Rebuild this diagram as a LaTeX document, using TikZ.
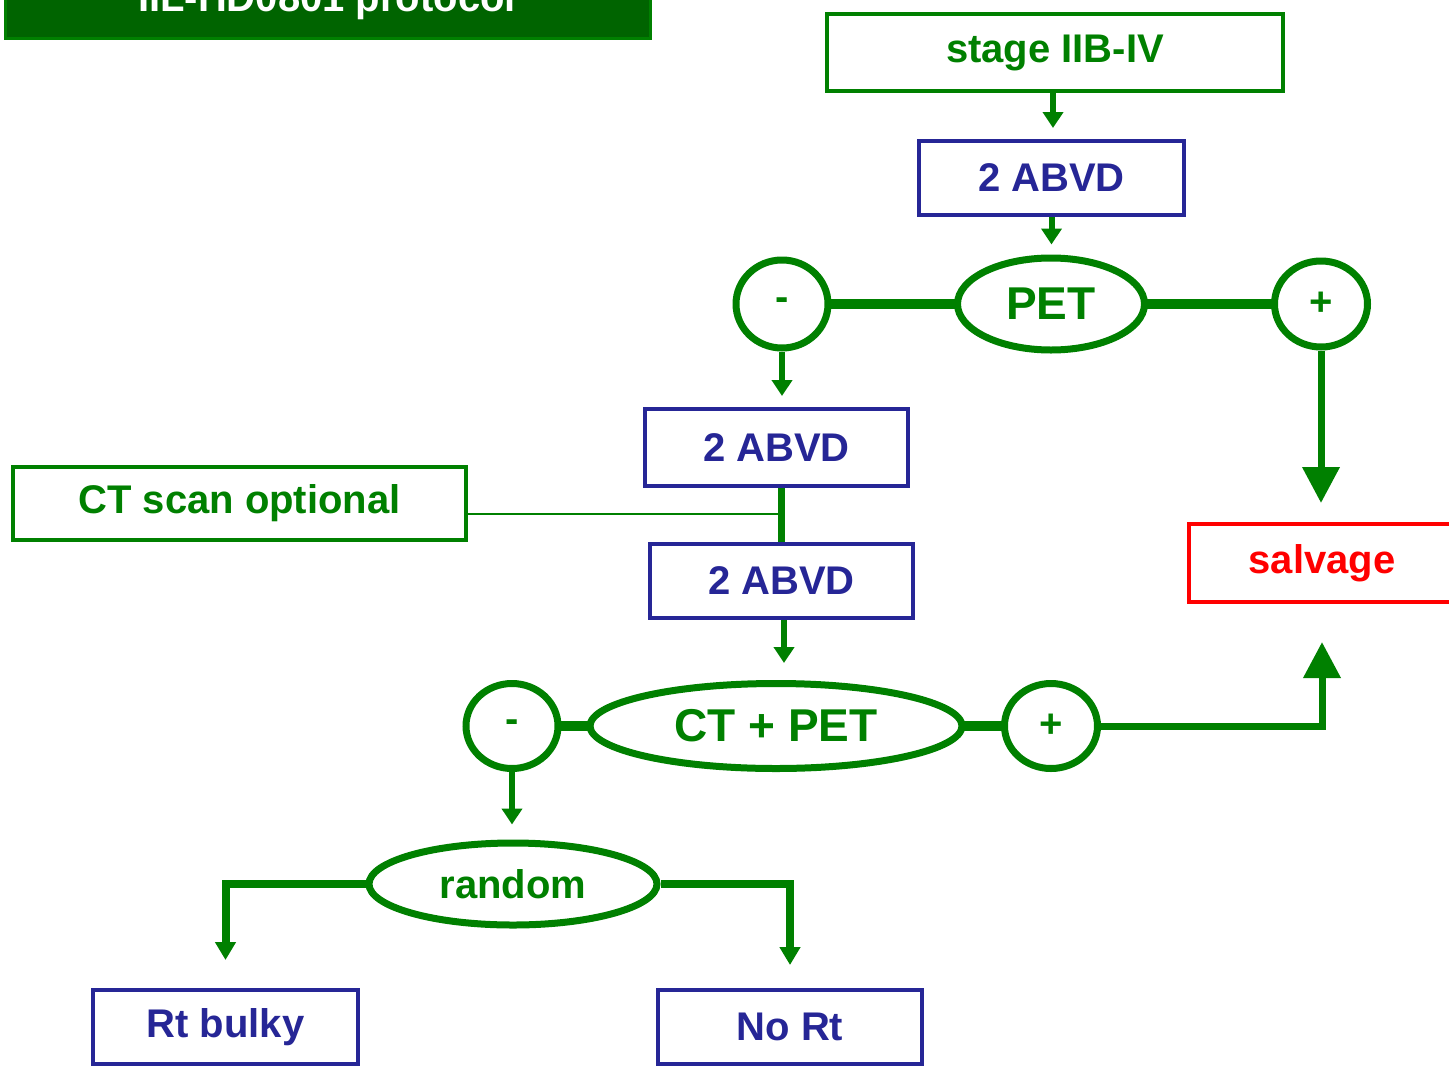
\documentclass[tikz,border=0pt]{standalone}
\usepackage{fontspec}
\setmainfont{Liberation Sans}
\usetikzlibrary{shapes.geometric,arrows.meta,backgrounds}
\definecolor{flowgreen}{RGB}{0,128,0}
\definecolor{bannergreen}{RGB}{0,100,0}
\definecolor{flowblue}{RGB}{38,38,150}
\definecolor{flowred}{RGB}{255,0,0}
\tikzset{
  txt/.style={font=\fontsize{40}{48}\selectfont\bfseries},
  bigtxt/.style={font=\fontsize{46}{54}\selectfont\bfseries},
  gbox/.style={txt, draw=flowgreen, text=flowgreen, line width=4, inner sep=0, rectangle},
  bbox/.style={txt, draw=flowblue, text=flowblue, line width=4, inner sep=0, rectangle},
  rbox/.style={txt, draw=flowred, text=flowred, line width=4, inner sep=0, rectangle},
  oval/.style={draw=flowgreen, fill=white, text=flowgreen, line width=7, ellipse, inner sep=0},
  arr/.style={draw=flowgreen, line width=6, -{Triangle[length=16pt,width=20pt]}},
  bigarr/.style={draw=flowgreen, line width=7, -{Triangle[length=36pt,width=36pt]}},
  link/.style={draw=flowgreen, line width=10},
  branch/.style={draw=flowgreen, line width=8, -{Triangle[length=18pt,width=20pt]}},
  hair/.style={draw=flowgreen, line width=2},
}
\begin{document}
\begin{tikzpicture}[x=1pt,y=-1pt]
\clip (0,0) rectangle (1449,1066);

% protocol banner
\node[draw=flowgreen, fill=bannergreen, line width=3, rectangle, inner sep=0,
      minimum width=645, minimum height=58] (banner) at (327.5,9) {};
\node[txt, text=white] (bannertext) at (327,1) {IIL-HD0801 protocol};

% boxes
\node[gbox, minimum width=456, minimum height=77] (stage) at (1055,52.5) {stage IIB-IV};
\node[bbox, minimum width=265, minimum height=74] (abvd1) at (1051.5,178) {2 ABVD};
\node[bbox, minimum width=263, minimum height=77] (abvd2) at (776.5,447.5) {2 ABVD};
\node[bbox, minimum width=263, minimum height=74] (abvd3) at (781.5,581) {2 ABVD};
\node[gbox, minimum width=453, minimum height=73] (ctscan) at (239.5,503.5) {CT scan optional};
\node[rbox, minimum width=266, minimum height=78] (salvage) at (1322,563) {salvage};
\node[bbox, minimum width=265, minimum height=74] (rtbulky) at (225.5,1027) {Rt bulky};
\node[bbox, minimum width=264, minimum height=74] (nort) at (790,1027) {No Rt};

% decision ovals
\node[oval, bigtxt, minimum width=187, minimum height=92] (pet) at (1051,304) {PET};
\node[oval, txt, minimum width=92, minimum height=88] (minus1) at (782,304) {-};
\node[oval, txt, minimum width=93, minimum height=86] (plus1) at (1321,304) {+};
\node[oval, bigtxt, minimum width=372, minimum height=85] (ctpet) at (776,726) {CT + PET};
\node[oval, txt, minimum width=92, minimum height=85] (minus2) at (512,726) {-};
\node[oval, txt, minimum width=93, minimum height=85] (plus2) at (1051,726) {+};
\node[oval, txt, minimum width=288, minimum height=82] (random) at (513,884) {random};

% bars joining the ovals, laid under them
\begin{scope}[on background layer]
\fill[white] (0,0) rectangle (1449,1066);
\draw[link] (minus1.center) -- (pet.center) -- (plus1.center);
\draw[link] (minus2.center) -- (ctpet.center) -- (plus2.center);
\end{scope}

% connectors
\draw[arr, shorten >=11pt] ([xshift=-2pt]stage.south) -- ([xshift=-2pt]stage.south |- abvd1.north);
\draw[arr, shorten >=10pt] (abvd1.south) -- (abvd1.south |- pet.north);
\draw[arr, shorten >=11pt] (minus1.south) -- (minus1.south |- abvd2.north);
\draw[bigarr, shorten >=19pt] (plus1.south) -- (plus1.south |- salvage.north);
\draw[draw=flowgreen, line width=7] (abvd3.north) -- (abvd3.north |- abvd2.south);
\draw[hair] ([yshift=-10.5pt]ctscan.east) -- ([yshift=-10.5pt]ctscan.east -| abvd3.north);
\draw[arr, shorten >=17pt] ([xshift=2.5pt]abvd3.south) -- ([xshift=2.5pt]abvd3.south |- ctpet.north);
\draw[bigarr, shorten >=38pt] (plus2.east) -| (salvage.south);
\draw[arr, shorten >=15pt] (minus2.south) -- (minus2.south |- random.north);
\draw[branch, shorten >=28pt] (random.west) -| (rtbulky.north);
\draw[branch, shorten >=23pt] (random.east) -| (nort.north);
\end{tikzpicture}
\end{document}
